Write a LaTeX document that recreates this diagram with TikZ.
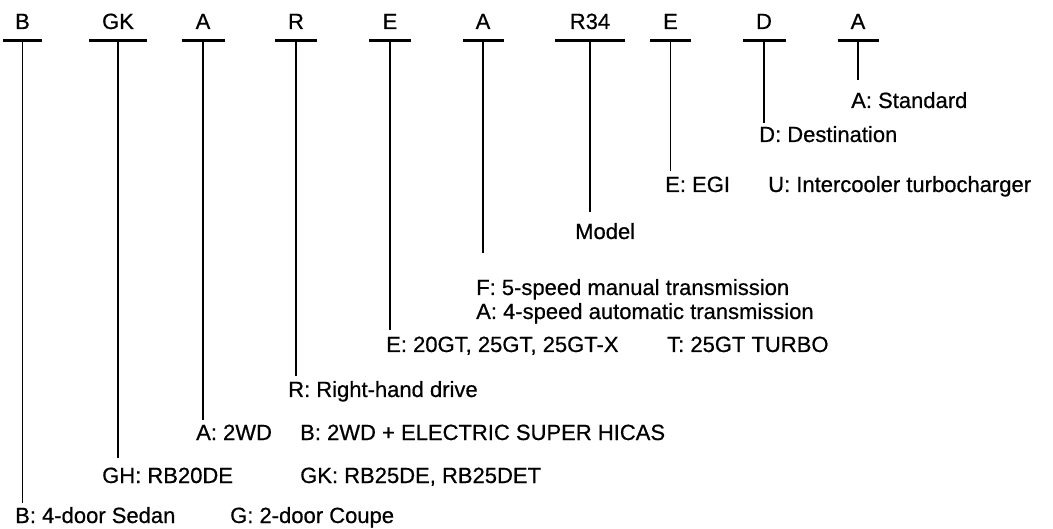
\documentclass[tikz,border=0pt]{standalone}
\usepackage{fontspec}
\setmainfont{Liberation Sans}[FakeBold=0.6]
\newcommand\mkcol[5]{%
  \node[code] (c#1) at (#2,29) {#4};
  \coordinate (b#1) at (#2,41);
  \coordinate (e#1) at (#2,#5);
  \draw[bar] ([xshift=-#3pt]b#1) -- ([xshift=#3pt]b#1);
  \draw[stem] (b#1) -- (e#1);
}
\begin{document}
\begin{tikzpicture}[x=1pt,y=-1pt,
  lbl/.style={anchor=base west, inner sep=0pt, font=\fontsize{22}{26}\selectfont},
  code/.style={anchor=base, inner sep=0pt, font=\fontsize{22}{26}\selectfont},
  bar/.style={line width=3pt},
  stem/.style={line width=1.8pt}]
\useasboundingbox (0,0) rectangle (1053,529);
\mkcol{B}{22.5}{19.5}{B}{503}
\mkcol{GK}{118}{29}{GK}{458}
\mkcol{Aa}{203}{21.5}{A}{420}
\mkcol{R}{296}{21}{R}{376}
\mkcol{Eb}{390}{21}{E}{330}
\mkcol{Ab}{483}{20.5}{A}{253}
\mkcol{R34}{590}{35}{R34}{212}
\mkcol{Ec}{670.5}{20.5}{E}{171}
\mkcol{D}{764}{21.5}{D}{123}
\mkcol{Ad}{858}{20.5}{A}{80}
\node[lbl] (lB1) at (15,523) {B: 4-door Sedan};
\node[lbl] (lB2) at (230,523) {G: 2-door Coupe};
\node[lbl] (lG1) at (102,483) {GH: RB20DE};
\node[lbl] (lG2) at (300,483) {GK: RB25DE, RB25DET};
\node[lbl] (lA1) at (196,440) {A: 2WD};
\node[lbl] (lA2) at (300,440) {B: 2WD + ELECTRIC SUPER HICAS};
\node[lbl] (lR) at (288,397) {R: Right-hand drive};
\node[lbl] (lE1) at (386,352) {E: 20GT, 25GT, 25GT-X};
\node[lbl] (lE2) at (667,352) {T: 25GT TURBO};
\node[lbl] (lF) at (476,295) {F: 5-speed manual transmission};
\node[lbl] (lA) at (476,319) {A: 4-speed automatic transmission};
\node[lbl] (lM) at (575,239) {Model};
\node[lbl] (lEG) at (665,192) {E: EGI};
\node[lbl] (lU) at (768,192) {U: Intercooler turbocharger};
\node[lbl] (lD) at (759,142) {D: Destination};
\node[lbl] (lS) at (851,108) {A: Standard};
\end{tikzpicture}
\end{document}
